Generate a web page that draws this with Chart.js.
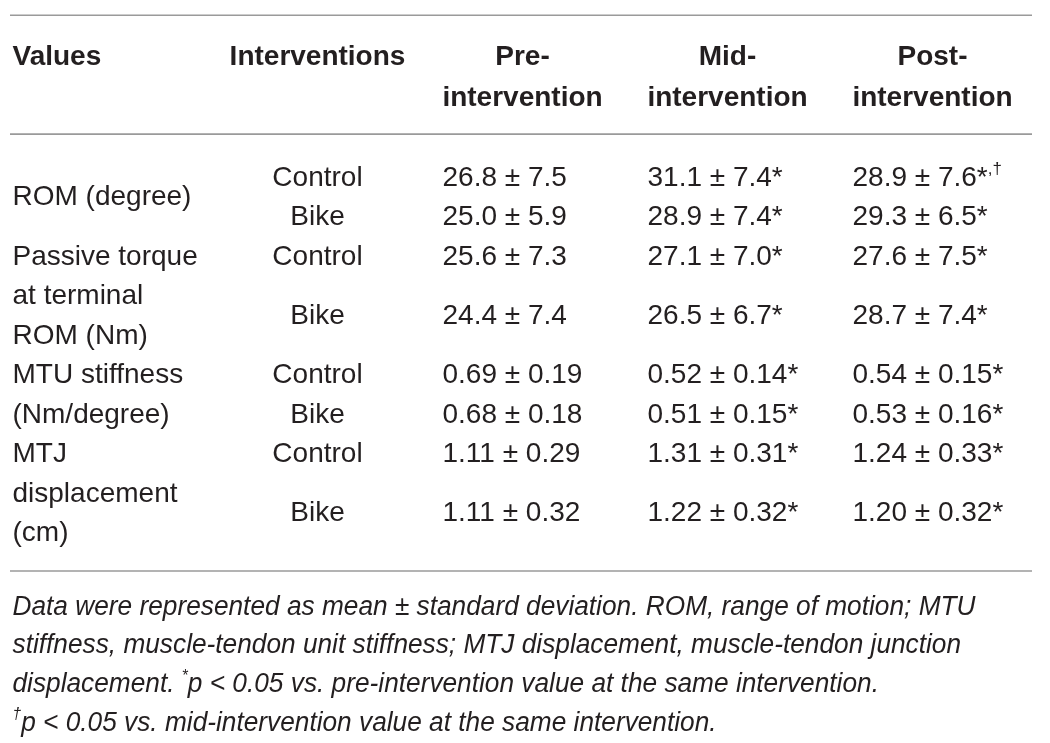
<!DOCTYPE html>
<html lang="en">
<head>
<meta charset="UTF-8">
<title>Intervention values table</title>
<script src="https://cdn.jsdelivr.net/npm/chart.js"></script>
<style>
  html, body { margin: 0; padding: 0; background: #fff; }
  #wrap { width: 1050px; height: 743px; }
</style>
</head>
<body>
<div id="wrap"><canvas id="tableChart" width="1050" height="743"></canvas></div>
<script>
// ---- table data ----
const columns = ['Values', 'Interventions', 'Pre-intervention', 'Mid-intervention', 'Post-intervention'];
const headerLines = [['Values'], ['Interventions'], ['Pre-', 'intervention'], ['Mid-', 'intervention'], ['Post-', 'intervention']];
const valueLabels = [['ROM (degree)'], ['Passive torque', 'at terminal', 'ROM (Nm)'], ['MTU stiffness', '(Nm/degree)'], ['MTJ', 'displacement', '(cm)']];
const decimals = [1, 1, 2, 2];
const interventions = ['Control', 'Bike'];

// one entry per row: ROM C, ROM B, torque C, torque B, MTU C, MTU B, MTJ C, MTJ B
const preMean  = [26.8, 25.0, 25.6, 24.4, 0.69, 0.68, 1.11, 1.11];
const preSD    = [7.5, 5.9, 7.3, 7.4, 0.19, 0.18, 0.29, 0.32];
const midMean  = [31.1, 28.9, 27.1, 26.5, 0.52, 0.51, 1.31, 1.22];
const midSD    = [7.4, 7.4, 7.0, 6.7, 0.14, 0.15, 0.31, 0.32];
const midMarks = [['*'], ['*'], ['*'], ['*'], ['*'], ['*'], ['*'], ['*']];
const postMean = [28.9, 29.3, 27.6, 28.7, 0.54, 0.53, 1.24, 1.20];
const postSD   = [7.6, 6.5, 7.5, 7.4, 0.15, 0.16, 0.33, 0.32];
const postMarks = [['*', '†'], ['*'], ['*'], ['*'], ['*'], ['*'], ['*'], ['*']];

const footnoteLines = [
    [{ t: 'Data were represented as mean ± standard deviation. ROM, range of motion; MTU' }],
    [{ t: 'stiffness, muscle-tendon unit stiffness; MTJ displacement, muscle-tendon junction' }],
    [{ t: 'displacement. ' }, { t: '*', sup: true }, { t: 'p < 0.05 vs. pre-intervention value at the same intervention.' }],
    [{ t: '†', sup: true }, { t: 'p < 0.05 vs. mid-intervention value at the same intervention.' }]
];

// ---- row layout in "text line" units on the y scale ----
const rowLine = [];      // y of each data row
const labelPoints = [];  // y + text of each value label line
let line = 0;
valueLabels.forEach((lines, g) => {
    const h = Math.max(interventions.length, lines.length);
    rowLine.push(line);            // Control
    rowLine.push(line + h / 2);    // Bike
    lines.forEach((txt, j) => labelPoints.push({ y: line + (h - lines.length) / 2 + j, text: txt }));
    line += h;
});

const headerY = [-3.06, -2.03];
const ruleY = [-4.07, -1.06, 10.0];
const footY0 = 10.86, footStep = 0.98;

const BODY_FONT = '28px "Liberation Sans", Arial, sans-serif';
const HEAD_FONT = 'bold 28px "Liberation Sans", Arial, sans-serif';
const FOOT_FONT = 'italic 27px "Liberation Sans Narrow", "Liberation Sans", Arial, sans-serif';
const INK = '#231f20';
const TEXT_NUDGE = 2; // middle baseline sits a touch high

function cellRuns(mean, sd, dec, marks) {
    const runs = [{ t: mean.toFixed(dec) + ' ± ' + sd.toFixed(dec) }];
    if (marks && marks.length) {
        runs.push({ t: marks[0] });
        if (marks.length > 1) runs.push({ t: ',' + marks.slice(1).join(','), sup: true });
    }
    return runs;
}
const rowDec = i => decimals[Math.floor(i / interventions.length)];

// ---- datasets: invisible points, text drawn at their positions ----
const datasets = [];
headerLines.forEach((lines, c) => {
    datasets.push({
        label: 'header ' + columns[c],
        data: lines.map((t, j) => ({ x: columns[c], y: headerY[j] })),
        runs: lines.map(t => [{ t }]),
        font: HEAD_FONT, align: c === 0 ? 'left' : 'center', dx: c === 0 ? -100 : 0
    });
});
datasets.push({
    label: 'Values',
    data: labelPoints.map(p => ({ x: 'Values', y: p.y })),
    runs: labelPoints.map(p => [{ t: p.text }]),
    font: BODY_FONT, align: 'left', dx: -100
});
datasets.push({
    label: 'Interventions',
    data: rowLine.map(y => ({ x: 'Interventions', y })),
    runs: rowLine.map((y, i) => [{ t: interventions[i % interventions.length] }]),
    font: BODY_FONT, align: 'center', dx: 0
});
[
    ['Pre-intervention', preMean, preSD, null],
    ['Mid-intervention', midMean, midSD, midMarks],
    ['Post-intervention', postMean, postSD, postMarks]
].forEach(([col, mean, sd, marks]) => {
    datasets.push({
        label: col,
        data: rowLine.map(y => ({ x: col, y })),
        runs: mean.map((m, i) => cellRuns(m, sd[i], rowDec(i), marks ? marks[i] : null)),
        font: BODY_FONT, align: 'left', dx: -80
    });
});
datasets.push({
    label: 'footnote',
    data: footnoteLines.map((l, i) => ({ x: 'Values', y: footY0 + footStep * i })),
    runs: footnoteLines,
    font: FOOT_FONT, align: 'left', dx: -100, fitFirst: 963
});
datasets.forEach(ds => {
    ds.showLine = false;
    ds.pointRadius = 0;
    ds.pointHoverRadius = 0;
});

function supFont(font) {
    return font.replace(/(\d+)px/, (m, s) => Math.round(s * 0.6) + 'px');
}
function runsWidth(ctx, runs, font) {
    let w = 0;
    runs.forEach(r => {
        ctx.font = r.sup ? supFont(font) : font;
        w += ctx.measureText(r.t).width;
    });
    return w;
}
function drawRuns(ctx, runs, x, y, align, font, sx) {
    const w = runsWidth(ctx, runs, font) * sx;
    let cx = align === 'center' ? x - w / 2 : x;
    const size = parseFloat(font.match(/(\d+)px/)[1]);
    runs.forEach(r => {
        ctx.font = r.sup ? supFont(font) : font;
        const rw = ctx.measureText(r.t).width;
        ctx.save();
        ctx.translate(cx, r.sup ? y - size * 0.3 : y);
        ctx.scale(sx, 1);
        ctx.fillText(r.t, 0, 0);
        ctx.restore();
        cx += rw * sx;
    });
}

const tablePlugin = {
    id: 'tablePlugin',
    beforeDatasetsDraw(chart) {
        const { ctx, chartArea, scales } = chart;
        ctx.save();
        ctx.strokeStyle = '#9a9a9a';
        ctx.lineWidth = 1.6;
        ruleY.forEach(v => {
            const py = scales.y.getPixelForValue(v);
            ctx.beginPath();
            ctx.moveTo(chartArea.left, py);
            ctx.lineTo(chartArea.right - 3, py);
            ctx.stroke();
        });
        ctx.restore();
    },
    afterDatasetsDraw(chart) {
        const ctx = chart.ctx;
        ctx.save();
        ctx.fillStyle = INK;
        ctx.textBaseline = 'middle';
        ctx.textAlign = 'left';
        chart.data.datasets.forEach((ds, i) => {
            const meta = chart.getDatasetMeta(i);
            let sx = 1;
            if (ds.fitFirst) {
                sx = Math.min(1, ds.fitFirst / runsWidth(ctx, ds.runs[0], ds.font));
            }
            meta.data.forEach((pt, j) => {
                drawRuns(ctx, ds.runs[j], pt.x + ds.dx, pt.y + TEXT_NUDGE, ds.align, ds.font, sx);
            });
        });
        ctx.restore();
    }
};

new Chart(document.getElementById('tableChart').getContext('2d'), {
    type: 'line',
    data: { labels: columns, datasets },
    options: {
        responsive: false,
        animation: false,
        devicePixelRatio: 1,
        layout: { padding: { left: 10, right: 15, top: 0, bottom: 0 } },
        plugins: { legend: { display: false }, tooltip: { enabled: false } },
        events: [],
        scales: {
            x: { type: 'category', labels: columns, offset: true, display: false },
            y: { type: 'linear', reverse: true, min: -4.456, max: 14.354, display: false }
        }
    },
    plugins: [tablePlugin]
});
</script>
</body>
</html>
